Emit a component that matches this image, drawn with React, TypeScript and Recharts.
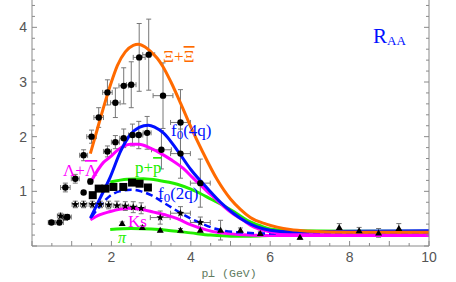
import React from 'react';
import { ComposedChart, Line, Scatter, XAxis, YAxis, ErrorBar } from 'recharts';

// ---- model curves [pT, R_AA] ----
const xiCurve = [[1.47,1.69],[1.65,2.15],[1.8,2.53],[2.0,3.0],[2.15,3.3],[2.35,3.55],[2.55,3.67],[2.68,3.69],[2.85,3.64],[3.0,3.55],[3.16,3.43],[3.3,3.28],[3.5,3.0],[3.75,2.6],[4.0,2.18],[4.3,1.72],[4.66,1.22],[5.0,0.86],[5.25,0.67],[5.5,0.52],[5.9,0.4],[6.5,0.3],[7,0.27],[8,0.25],[10,0.25]];
const f04qCurve = [[1.47,0.51],[1.72,0.88],[1.97,1.26],[2.23,1.73],[2.48,2.04],[2.7,2.17],[2.93,2.21],[3.1,2.17],[3.31,2.07],[3.66,1.75],[4.0,1.4],[4.45,1.03],[4.75,0.8],[5.07,0.6],[5.4,0.44],[5.67,0.35],[6.0,0.29],[6.5,0.26],[8,0.27],[10,0.28]];
const lambdaCurve = [[1.47,1.16],[1.8,1.53],[1.97,1.63],[2.15,1.75],[2.48,1.86],[2.7,1.86],[2.98,1.79],[3.23,1.7],[3.5,1.58],[3.81,1.42],[4.06,1.24],[4.24,1.12],[4.41,1.0],[4.66,0.84],[4.82,0.73],[5.08,0.58],[5.32,0.47],[5.5,0.38],[6.08,0.25],[6.5,0.21],[8,0.2],[10,0.2]];
const protonCurve = [[1.97,1.17],[2.4,1.22],[2.81,1.23],[3.2,1.2],[3.66,1.13],[4.0,1.04],[4.24,0.96],[4.5,0.86],[4.82,0.74],[5.1,0.62],[5.42,0.47],[5.75,0.37],[6.08,0.3],[6.5,0.28],[8,0.27],[10,0.27]];
const f02qCurve = [[1.5,0.53],[1.7,0.72],[1.97,0.92],[2.2,1.0],[2.5,1.03],[2.75,1.0],[3.0,0.93],[3.3,0.8],[3.66,0.64],[4.0,0.5],[4.24,0.42],[4.6,0.32],[5.2,0.25],[6,0.23],[10,0.24]];
const kaonCurve = [[1.47,0.48],[1.7,0.57],[1.97,0.63],[2.2,0.67],[2.48,0.69],[2.75,0.67],[3.06,0.62],[3.4,0.56],[3.66,0.5],[3.99,0.39],[4.41,0.29],[4.66,0.25],[5.2,0.21],[6,0.19],[10,0.19]];
const pionCurve = [[1.97,0.3],[2.5,0.32],[3.0,0.31],[3.5,0.28],[4.0,0.24],[4.5,0.2],[5.0,0.18],[5.5,0.18],[6,0.19],[7,0.2],[10,0.22]];

// ---- data points [pT, R_AA, errY, errX] ----
const circlePts = [[0.49,0.43,0.03,0.08],[0.69,0.43,0.04,0.1],[0.89,0.53,0.04,0.1],[0.84,1.07,0.08,0.12],[1.09,1.23,0.08,0.1],[1.3,0.98,0.03,0],[1.3,1.66,0.1,0.1],[1.5,2.0,0.12,0.12],[1.68,2.35,0.18,0.12],[1.9,2.81,0.23,0.12],[2.1,2.62,0.27,0.12],[2.31,2.93,0.33,0.12],[2.5,2.95,0.42,0.12],[2.7,3.45,0.62,0.15],[2.94,3.5,0.65,0.15],[3.3,2.75,0.6,0.25],[3.74,2.26,0.6,0.25],[1.47,1.18,0.05,0.05],[1.9,1.73,0.1,0.1],[2.1,1.9,0.12,0.1],[2.31,1.97,0.17,0.1],[2.53,2.03,0.2,0.1],[2.69,2.03,0.25,0.1],[2.9,2.07,0.3,0.1],[3.26,1.76,0.35,0.25],[3.74,1.69,0.45,0.25],[4.24,1.15,0.44,0.25]];
const starPts = [[0.72,0.55,0.05,0.08],[0.84,0.52,0.05,0.08],[1.09,0.76,0.06,0.08],[1.3,0.76,0.06,0.08],[1.52,0.76,0.06,0.08],[1.72,0.76,0.06,0.08],[1.93,0.75,0.07,0.08],[2.14,0.74,0.08,0.08],[2.35,0.73,0.08,0.08],[2.55,0.71,0.1,0.08],[2.75,0.69,0.1,0.1],[3.23,0.52,0.12,0.25],[3.74,0.6,0.12,0.25],[4.24,0.43,0.1,0.25]];
const squarePts = [[1.53,0.93],[1.68,1.05],[1.85,1.05],[2.05,1.08],[2.3,1.08],[2.52,1.16],[2.71,1.14],[2.92,1.07]];
const trianglePts = [[2.27,0.41,0.03],[2.78,0.34,0.03],[3.23,0.29,0.03],[3.74,0.29,0.03],[4.24,0.29,0.03],[4.75,0.29,0.18],[5.25,0.29,0.04],[5.75,0.23,0.04],[6.75,0.16,0.04],[7.74,0.34,0.07],[8.24,0.28,0.06],[8.73,0.24,0.08],[9.24,0.32,0.09]];

// ---- ticks ----
const xMajorLabels = [2, 4, 6, 8, 10];
const yMajorLabels = [1, 2, 3, 4];
const xTicks = Array.from({ length: 21 }, (_, i) => i * 0.5);
const yTicks = Array.from({ length: 23 }, (_, i) => Math.round(i * 2) / 10);

const toPts = (a: number[][]) => a.map(([x, y]) => ({ x, y }));
const toErr = (a: number[][]) => a.map(([x, y, ey = 0, ex = 0]) => ({ x, y, ey, ex }));

const FRAME = '#8a8a8a';
const LABEL = '#555';
const ORANGE = '#ff6a00';
const BLUE = '#0010ff';
const MAGENTA = '#ff00ff';
const GREEN = '#22ee00';
const ERR = '#777';

const isInt = (v: number) => Math.abs(v - Math.round(v)) < 1e-6;

const BottomTick = (p: any) => {
  const v = p.payload.value;
  return (
    <g>
      <line x1={p.x} x2={p.x} y1={p.y} y2={p.y - (isInt(v) ? 5 : 3)} stroke={FRAME} />
      {xMajorLabels.includes(v) && (
        <text x={p.x} y={p.y + 16} textAnchor="middle" fill={LABEL} fontSize={14} fontFamily="Liberation Sans, Arial">{v}</text>
      )}
    </g>
  );
};
const TopTick = (p: any) => {
  const v = p.payload.value;
  return <line x1={p.x} x2={p.x} y1={p.y} y2={p.y + (isInt(v) ? 5 : 3)} stroke={FRAME} />;
};
const LeftTick = (p: any) => {
  const v = p.payload.value;
  return (
    <g>
      <line x1={p.x} x2={p.x + (isInt(v) ? 5 : 3)} y1={p.y} y2={p.y} stroke={FRAME} />
      {yMajorLabels.includes(v) && (
        <text x={p.x - 5} y={p.y + 5} textAnchor="end" fill={LABEL} fontSize={14} fontFamily="Liberation Sans, Arial">{v}</text>
      )}
    </g>
  );
};
const RightTick = (p: any) => {
  const v = p.payload.value;
  return <line x1={p.x} x2={p.x - (isInt(v) ? 5 : 3)} y1={p.y} y2={p.y} stroke={FRAME} />;
};

const Circle = (p: any) => <circle cx={p.cx} cy={p.cy} r={3.2} fill="#000" />;
const Square = (p: any) => <rect x={p.cx - 4} y={p.cy - 4} width={8} height={8} fill="#000" />;
const Triangle = (p: any) => (
  <polygon points={`${p.cx},${p.cy - 3.5} ${p.cx - 3.5},${p.cy + 2.5} ${p.cx + 3.5},${p.cy + 2.5}`} fill="#000" />
);
const Star = (p: any) => {
  const pts: string[] = [];
  for (let i = 0; i < 10; i++) {
    const r = i % 2 === 0 ? 4 : 1.7;
    const a = -Math.PI / 2 + (i * Math.PI) / 5;
    pts.push(`${p.cx + r * Math.cos(a)},${p.cy + r * Math.sin(a)}`);
  }
  return <polygon points={pts.join(' ')} fill="#000" />;
};

const serif = 'Liberation Serif, Times New Roman, serif';

export default function App() {
  const common = { xAxisId: 'b', yAxisId: 'l', isAnimationActive: false } as const;
  return (
    <div style={{ position: 'absolute', left: 0, top: 0, width: 456, height: 282 }}>
      <ComposedChart width={456} height={282} margin={{ top: 0, right: 0, bottom: 0, left: 0 }}>
        <XAxis xAxisId="b" dataKey="x" type="number" orientation="bottom" domain={[0, 10]} ticks={xTicks}
          allowDataOverflow height={36} tickSize={0} tickMargin={0} tickLine={false} interval={0}
          axisLine={{ stroke: FRAME }} tick={<BottomTick />} />
        <XAxis xAxisId="t" dataKey="x" type="number" orientation="top" domain={[0, 10]} ticks={xTicks}
          allowDataOverflow height={0} tickSize={0} tickMargin={0} tickLine={false} interval={0}
          axisLine={{ stroke: FRAME }} tick={<TopTick />} />
        <YAxis yAxisId="l" dataKey="y" type="number" orientation="left" domain={[0, 4.5]} ticks={yTicks}
          allowDataOverflow width={32} tickSize={0} tickMargin={0} tickLine={false} interval={0}
          axisLine={{ stroke: FRAME }} tick={<LeftTick />} />
        <YAxis yAxisId="r" dataKey="y" type="number" orientation="right" domain={[0, 4.5]} ticks={yTicks}
          allowDataOverflow width={27} tickSize={0} tickMargin={0} tickLine={false} interval={0}
          axisLine={{ stroke: FRAME }} tick={<RightTick />} />

        <Scatter {...common} data={toErr(circlePts)} dataKey="y" shape={<Circle />}>
          <ErrorBar dataKey="ey" direction="y" stroke={ERR} width={2.5} strokeWidth={1} />
          <ErrorBar dataKey="ex" direction="x" stroke={ERR} width={2.5} strokeWidth={1} />
        </Scatter>
        <Scatter {...common} data={toErr(starPts)} dataKey="y" shape={<Star />}>
          <ErrorBar dataKey="ey" direction="y" stroke={ERR} width={2.5} strokeWidth={1} />
          <ErrorBar dataKey="ex" direction="x" stroke={ERR} width={2.5} strokeWidth={1} />
        </Scatter>
        <Scatter {...common} data={toErr(trianglePts)} dataKey="y" shape={<Triangle />}>
          <ErrorBar dataKey="ey" direction="y" stroke={ERR} width={2.5} strokeWidth={1} />
        </Scatter>

        <Line {...common} data={toPts(pionCurve)} dataKey="y" type="monotone" stroke={GREEN} strokeWidth={3} dot={false} />
        <Line {...common} data={toPts(kaonCurve)} dataKey="y" type="monotone" stroke={MAGENTA} strokeWidth={3} dot={false} />
        <Line {...common} data={toPts(f02qCurve)} dataKey="y" type="monotone" stroke={BLUE} strokeWidth={2.5} strokeDasharray="7 4" dot={false} />
        <Line {...common} data={toPts(protonCurve)} dataKey="y" type="monotone" stroke={GREEN} strokeWidth={3} dot={false} />
        <Line {...common} data={toPts(lambdaCurve)} dataKey="y" type="monotone" stroke={MAGENTA} strokeWidth={3} dot={false} />
        <Line {...common} data={toPts(f04qCurve)} dataKey="y" type="monotone" stroke={BLUE} strokeWidth={3} dot={false} />
        <Line {...common} data={toPts(xiCurve)} dataKey="y" type="monotone" stroke={ORANGE} strokeWidth={3} dot={false} />

        <Scatter {...common} data={toPts(squarePts)} dataKey="y" shape={<Square />} />
      </ComposedChart>
      <svg width={456} height={282} style={{ position: 'absolute', left: 0, top: 0, pointerEvents: 'none' }}>
        <text x={163} y={62} fontSize={17} fill={ORANGE} fontFamily={serif}>Ξ+<tspan textDecoration="overline">Ξ</tspan></text>
        <text x={171} y={136} fontSize={17} fill={BLUE} fontFamily={serif}>f<tspan fontSize={13} dy={3}>0</tspan><tspan dy={-3}>(4q)</tspan></text>
        <text x={373} y={43} fontSize={21} fill={BLUE} fontFamily={serif}>R<tspan fontSize={13} dy={2}>AA</tspan></text>
        <text x={63} y={176} fontSize={17} fill={MAGENTA} fontFamily={serif}>Λ+<tspan textDecoration="overline">Λ</tspan></text>
        <text x={135} y={173} fontSize={17} fill={GREEN} fontFamily={serif}>p+<tspan textDecoration="overline">p</tspan></text>
        <text x={158} y={199} fontSize={17} fill={BLUE} fontFamily={serif}>f<tspan fontSize={13} dy={3}>0</tspan><tspan dy={-3}>(2q)</tspan></text>
        <text x={128} y={227} fontSize={17} fill={MAGENTA} fontFamily={serif}>Ks</text>
        <text x={118} y={243} fontSize={16} fill={GREEN} fontStyle="italic" fontFamily={serif}>π</text>
        <text x={229} y={277} fontSize={11.5} fill="#5e7a5e" textAnchor="middle" fontFamily="Liberation Mono, Courier New, monospace">p⊥ (GeV)</text>
      </svg>
    </div>
  );
}
